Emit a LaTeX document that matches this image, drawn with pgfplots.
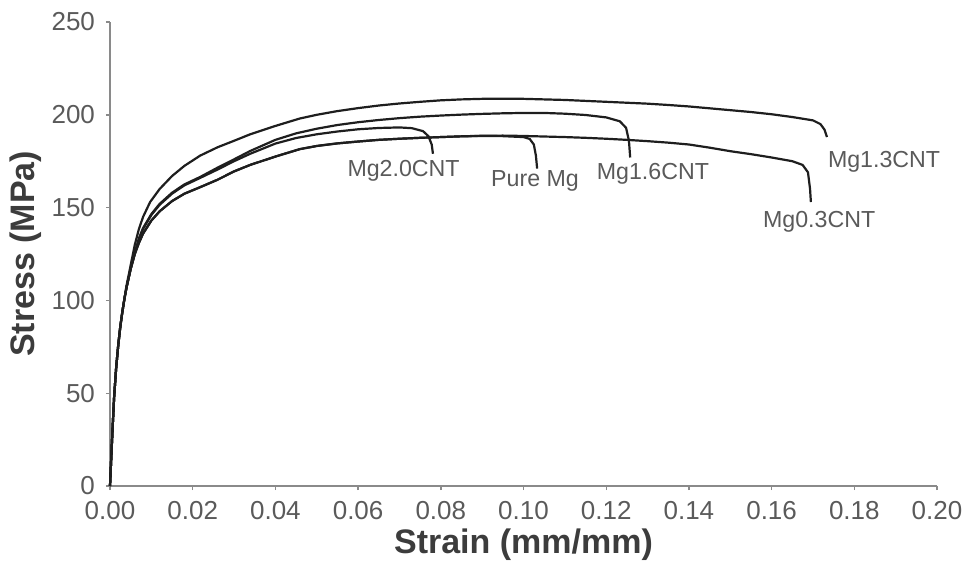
\documentclass[border=0pt]{standalone}
\usepackage{pgfplots}
\pgfplotsset{compat=1.18}
\usepackage{fontspec}
\setmainfont{Liberation Sans}

\definecolor{axisgray}{HTML}{8A8A8A}
\definecolor{labelgray}{HTML}{5A5A5A}
\definecolor{titlegray}{HTML}{3C3C3C}
\definecolor{curve}{HTML}{1E1E1E}

% Tensile curves, strain (mm/mm) vs stress (MPa)
\pgfplotstableread{
x y
0 0
0.0003 15
0.0006 30
0.001 48
0.0015 64
0.002 76
0.0025 86
0.003 94
0.0035 101
0.004 107
0.005 117
0.006 125
0.007 131
0.008 136
0.010 143
0.012 148
0.015 153.5
0.018 157.5
0.0218 161
0.026 165
0.030 169.5
0.0339 173
0.040 177.5
0.0459 181.5
0.050 183.2
0.055 184.6
0.060 185.6
0.065 186.5
0.070 187.1
0.075 187.6
0.080 188.0
0.085 188.4
0.090 188.6
0.095 188.5
0.100 188.0
0.1015 187
0.1025 184
0.1030 178
0.1033 171
}\puremg

\pgfplotstableread{
x y
0 0
0.0003 15
0.0006 30
0.001 48
0.0015 64
0.002 76
0.0025 86
0.003 94
0.0035 101
0.004 107
0.005 117
0.006 125
0.007 131
0.008 136
0.010 143
0.012 148
0.015 153.5
0.018 157.5
0.0218 161
0.026 165
0.030 169.5
0.0339 173
0.040 177.5
0.0459 181.5
0.050 183.2
0.055 184.6
0.060 185.6
0.065 186.5
0.070 187.1
0.075 187.6
0.080 188.0
0.085 188.4
0.090 188.7
0.095 188.8
0.100 188.6
0.105 188.3
0.110 188.0
0.115 187.6
0.120 187.1
0.125 186.5
0.130 185.8
0.135 185.0
0.140 184.0
0.145 182.3
0.150 180.4
0.155 178.8
0.160 177.0
0.165 175.0
0.1675 173
0.1688 169
0.1693 160
0.1695 153
}\mgzerothree

\pgfplotstableread{
x y
0 0
0.0003 15
0.0006 30
0.001 48
0.0015 64
0.002 76
0.0025 86
0.003 94
0.0035 101
0.004 107
0.005 117
0.006 125.5
0.007 133
0.008 138.5
0.010 146
0.012 151.5
0.015 157.5
0.018 162
0.0218 166
0.026 170.5
0.030 175
0.0339 179
0.040 184.5
0.045 187.5
0.050 189.5
0.055 191.0
0.060 192.2
0.065 192.9
0.070 193.2
0.073 192.8
0.0757 191.2
0.0770 188.5
0.0778 184
0.0781 179
}\mgtwozero

\pgfplotstableread{
x y
0 0
0.0003 15
0.0006 30
0.001 48
0.0015 64
0.002 76
0.0025 86
0.003 94
0.0035 101
0.004 107
0.005 117
0.006 125.5
0.007 133.5
0.008 139
0.010 146.5
0.012 152
0.015 158
0.018 162.5
0.0218 166.5
0.026 171.5
0.030 176
0.0339 180.5
0.040 186.5
0.045 190
0.050 192.5
0.055 194.5
0.060 196
0.065 197.2
0.070 198.2
0.075 199.0
0.080 199.6
0.085 200.1
0.090 200.5
0.095 200.8
0.100 201.0
0.105 201.0
0.110 200.6
0.115 199.9
0.120 198.6
0.1233 196.5
0.1248 193
0.1255 186
0.1258 177
}\mgonesix

\pgfplotstableread{
x y
0 0
0.0003 15
0.0006 30
0.001 48
0.0015 64
0.002 76
0.0025 86
0.003 94
0.0035 101
0.004 108
0.005 119
0.006 130
0.007 138.5
0.008 145
0.0097 153
0.012 160
0.015 167
0.018 172.5
0.0218 178
0.026 182.5
0.030 186
0.0339 189.5
0.040 194
0.0459 198
0.050 200
0.055 202
0.060 203.6
0.065 205
0.070 206.1
0.075 207
0.080 207.8
0.085 208.3
0.090 208.6
0.095 208.7
0.100 208.6
0.105 208.3
0.110 208.0
0.115 207.5
0.120 207.0
0.125 206.5
0.130 206.0
0.135 205.3
0.140 204.5
0.145 203.5
0.150 202.5
0.155 201.5
0.160 200.3
0.165 198.8
0.170 197.0
0.1718 195
0.1728 192
0.1734 188
}\mgonethree

\begin{document}
\begin{tikzpicture}
\useasboundingbox (-55pt,-41.5pt) rectangle (429pt,243pt);
\begin{axis}[
  at={(0,0)}, anchor=south west,
  width=413.5pt, height=232pt, scale only axis,
  xmin=0, xmax=0.2, ymin=0, ymax=250,
  axis x line*=bottom, axis y line*=left,
  axis line style={axisgray, line width=0.7pt},
  xtick={0,0.02,...,0.2001},
  ytick={0,50,...,250},
  tick align=outside,
  major tick length=2pt,
  tick style={axisgray, line width=0.7pt},
  x tick label style={/pgf/number format/.cd, fixed, fixed zerofill, precision=2, /tikz/.cd},
  scaled x ticks=false,
  /pgf/number format/assume math mode=true,
  ticklabel style={font=\fontsize{13}{15}\selectfont, text=labelgray},
  xticklabel style={yshift=-2pt},
  yticklabel style={xshift=-2pt},
  xlabel={\textbf{Strain (mm/mm)}},
  ylabel={\textbf{Stress (MPa)}},
  label style={font=\fontsize{17}{20}\selectfont, text=titlegray},
  xlabel style={yshift=2pt},
  ylabel style={yshift=-2pt},
  clip=false,
]
\addplot[curve, line width=1.1pt] table[x=x,y=y] {\mgonethree};
\addplot[curve, line width=1.1pt] table[x=x,y=y] {\mgonesix};
\addplot[curve, line width=1.1pt] table[x=x,y=y] {\mgtwozero};
\addplot[curve, line width=1.1pt] table[x=x,y=y] {\mgzerothree};
\addplot[curve, line width=1.1pt] table[x=x,y=y] {\puremg};

\begin{scope}[every node/.style={font=\fontsize{11.6}{13}\selectfont, text=labelgray, inner sep=0pt}]
\node at (axis cs:0.0710,169.6) {Mg2.0CNT};
\node at (axis cs:0.1028,164.3) {Pure Mg};
\node at (axis cs:0.1313,168.1) {Mg1.6CNT};
\node at (axis cs:0.1872,174.6) {Mg1.3CNT};
\node at (axis cs:0.1715,142.2) {Mg0.3CNT};
\end{scope}
\end{axis}
\end{tikzpicture}
\end{document}
